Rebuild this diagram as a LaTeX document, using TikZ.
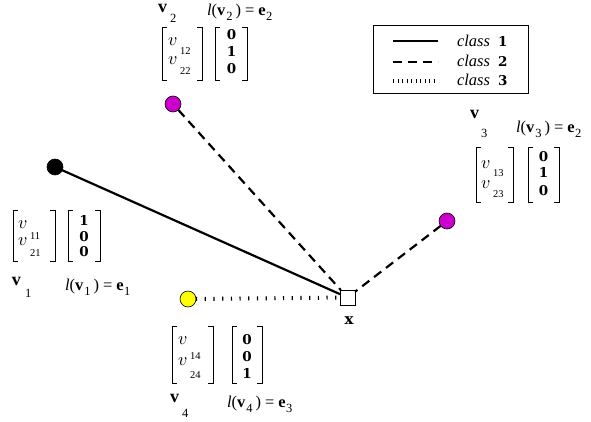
\documentclass[tikz,border=0pt]{standalone}
\usepackage{fontspec}
\setmainfont{Liberation Serif}
\newfontfamily\dvfont{DejaVu Serif}
\newfontfamily\lmmathfont{Latin Modern Math}
\definecolor{vmag}{RGB}{204,0,204}
\definecolor{vyel}{RGB}{255,255,0}
\tikzset{
  every node/.style={inner sep=0pt,outer sep=0pt},
  dot/.style={circle,draw=black,line width=0.6pt,minimum size=16pt},
  sqr/.style={rectangle,draw=black,line width=0.6pt,fill=white,minimum size=15pt},
  cone/.style={line width=2.2pt},
  ctwo/.style={line width=2.2pt,dash pattern=on 9pt off 6pt},
  cthree/.style={line width=4pt,dash pattern=on 1.2pt off 7.5pt},
  lthree/.style={line width=4pt,dash pattern=on 1pt off 3.5pt},
  brk/.style={line width=0.9pt},
  txt/.style={font=\fontsize{16.5}{19}\selectfont,anchor=base west},
  hv/.style={font=\fontsize{18}{20}\selectfont\bfseries,anchor=base west},
  hsub/.style={font=\fontsize{12.5}{14}\selectfont,anchor=base west},
  ent/.style={font=\fontsize{18}{20}\selectfont\lmmathfont,anchor=base west},
  esub/.style={font=\fontsize{10.5}{12}\selectfont,anchor=base west},
  bent/.style={font=\fontsize{13.5}{15}\selectfont\dvfont\bfseries,anchor=base},
}
\newcommand\brkt[4]{%
  \draw[brk] ({#1+5},#3) -- (#1,#3) -- (#1,#4) -- ({#1+5},#4);
  \draw[brk] ({#2-5},#3) -- (#2,#3) -- (#2,#4) -- ({#2-5},#4);}
\newcommand\labtxt[2]{\textit{l}(\textbf{v}\hspace{1pt}\raisebox{-5pt}{\fontsize{12.5}{14}\selectfont #1}\hspace{3pt})\hspace{4pt}=\hspace{4pt}\textbf{e}\hspace{0.5pt}\raisebox{-5pt}{\fontsize{12.5}{14}\selectfont #2}}
\newcommand\clnum[1]{{\fontsize{13.5}{15}\selectfont\dvfont\bfseries #1}}
\begin{document}
\begin{tikzpicture}[x=1pt,y=-1pt]
\fill[white] (0,0) rectangle (591,422);
\useasboundingbox (0,0) rectangle (591,422);

% points
\node[dot,fill=black] (v1) at (55,167) {};
\node[dot,fill=vmag] (v2) at (173,104) {};
\node[dot,fill=vmag] (v3) at (447,221) {};
\node[dot,fill=vyel] (v4) at (188,299) {};
\node[sqr] (x) at (347.5,297.5) {};
\node[font=\fontsize{15}{17}\selectfont\dvfont\bfseries,anchor=base] (xl) at (349,324) {x};

% connectors
\draw[cone] (v1) -- (x);
\draw[ctwo] (v2) -- (x);
\draw[ctwo] (v3) -- (x);
\draw[cthree] (v4) -- (x);

% legend
\draw[line width=0.8pt] (373,25) rectangle (528,93);
\draw[cone] (393,41) -- (438,41);
\draw[ctwo] (393,62) -- (438,62);
\draw[lthree] (393,81) -- (438,81);
\node[txt] (c1) at (457,47) {\textit{class}\hspace{8pt}\clnum{1}};
\node[txt] (c2) at (457,67) {\textit{class}\hspace{8pt}\clnum{2}};
\node[txt] (c3) at (457,86) {\textit{class}\hspace{8pt}\clnum{3}};

% v2 block
\node[hv] (h2) at (158,13) {v};
\node[hsub] (h2s) at (170,23) {2};
\node[txt] (l2) at (207,16) {\labtxt{2}{2}};
\brkt{162}{202}{27}{80}
\node[ent] (a2) at (168,46) {𝑣};
\node[esub] (a2s) at (180,55) {12};
\node[ent] (b2) at (168,65) {𝑣};
\node[esub] (b2s) at (180,75) {22};
\brkt{215}{247}{27}{80}
\node[bent] (p2) at (231.5,40) {0};
\node[bent] (q2) at (231.5,57) {1};
\node[bent] (r2) at (231.5,74) {0};

% v3 block
\node[hv] (h3) at (470,119) {v};
\node[hsub] (h3s) at (481,138) {3};
\node[txt] (l3) at (516,133) {\labtxt{3}{2}};
\brkt{476}{513}{147}{202}
\node[ent] (a3) at (481,168) {𝑣};
\node[esub] (a3s) at (493,177) {13};
\node[ent] (b3) at (481,188) {𝑣};
\node[esub] (b3s) at (493,197) {23};
\brkt{528}{559}{147}{202}
\node[bent] (p3) at (543.5,161) {0};
\node[bent] (q3) at (543.5,178) {1};
\node[bent] (r3) at (543.5,195) {0};

% v1 block
\node[hv] (h1) at (12,285) {v};
\node[hsub] (h1s) at (25,297) {1};
\node[txt] (l1) at (65,290) {\labtxt{1}{1}};
\brkt{13}{55}{210}{261}
\node[ent] (a1) at (18,228) {𝑣};
\node[esub] (a1s) at (30,239) {11};
\node[ent] (b1) at (18,245) {𝑣};
\node[esub] (b1s) at (30,256) {21};
\brkt{68}{100}{210}{261}
\node[bent] (p1) at (84,225) {1};
\node[bent] (q1) at (84,241) {0};
\node[bent] (r1) at (84,256) {0};

% v4 block
\node[hv] (h4) at (170,402) {v};
\node[hsub] (h4s) at (182,417) {4};
\node[txt] (l4) at (227,407) {\labtxt{4}{3}};
\brkt{172}{213}{326}{383}
\node[ent] (a4) at (178,344) {𝑣};
\node[esub] (a4s) at (190,359) {14};
\node[ent] (b4) at (178,365) {𝑣};
\node[esub] (b4s) at (190,378) {24};
\brkt{232}{262}{326}{383}
\node[bent] (p4) at (247,344) {0};
\node[bent] (q4) at (247,361) {0};
\node[bent] (r4) at (247,378) {1};
\end{tikzpicture}
\end{document}
